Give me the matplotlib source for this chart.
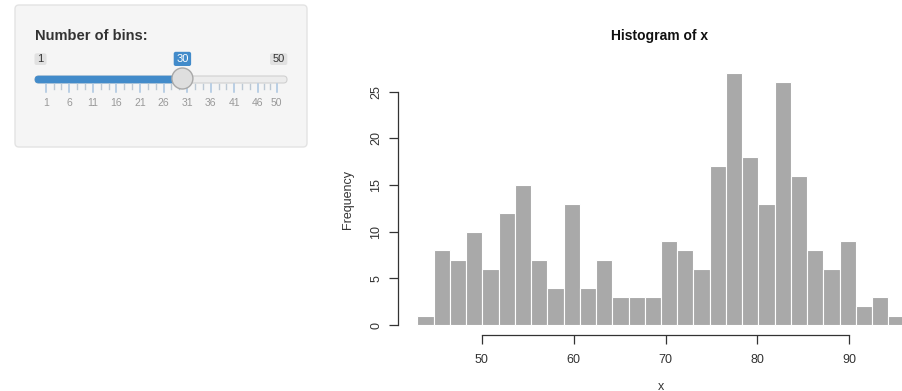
import numpy as np
import matplotlib
matplotlib.use('Agg')
import matplotlib.pyplot as plt
from matplotlib.patches import FancyBboxPatch, Circle

plt.rcParams['font.family'] = ['Liberation Sans', 'DejaVu Sans']

# faithful$waiting, 30 bins between min and max
WAIT_MIN = 43
WAIT_MAX = 96
N_BINS = 30
counts = [1, 8, 7, 10, 6, 12, 15, 7, 4, 13, 4, 7, 3, 3, 3,
          9, 8, 6, 17, 27, 18, 13, 26, 16, 8, 6, 9, 2, 3, 1]
xticks = [50, 60, 70, 80, 90]
yticks = [0, 5, 10, 15, 20, 25]

# slider input
slider_min = 1
slider_max = 50
slider_value = 30
slider_grid = [1, 6, 11, 16, 21, 26, 31, 36, 41, 46, 50]

BLUE = '#428bca'
TEXT = '#333333'


def px(v):
    # slider value -> pixel x in the sidebar
    return 45.7 + (v - slider_min) * (276.7 - 45.7) / (slider_max - slider_min)


def draw_sidebar(ax):
    ax.set_xlim(0, 903)
    ax.set_ylim(391, 0)
    ax.axis('off')

    well = FancyBboxPatch((15, 5), 292, 142, boxstyle='round,pad=0,rounding_size=4',
                          facecolor='#f5f5f5', edgecolor='#e3e3e3', linewidth=1)
    ax.add_patch(well)
    ax.text(35, 40, 'Number of bins:', fontsize=10.5, fontweight='bold',
            color=TEXT, va='baseline', ha='left')

    # track
    track = FancyBboxPatch((35, 76), 252, 7, boxstyle='round,pad=0,rounding_size=3.5',
                           facecolor='#ececec', edgecolor='#d0d0d0', linewidth=0.8)
    ax.add_patch(track)
    filled = FancyBboxPatch((35, 76), px(slider_value) - 35, 7,
                            boxstyle='round,pad=0,rounding_size=3.5',
                            facecolor=BLUE, edgecolor=BLUE, linewidth=0.5)
    ax.add_patch(filled)

    # grid ticks
    for i, g in enumerate(slider_grid):
        x = px(g)
        ax.plot([x, x], [84, 92], color='#a9c4e0', lw=1.1)
        ax.text(x, 103, str(g), fontsize=7.5, color='#999999', ha='center', va='center')
        if i < len(slider_grid) - 1:
            nxt = px(slider_grid[i + 1])
            for f in (1 / 3, 2 / 3):
                xm = x + (nxt - x) * f
                ax.plot([xm, xm], [84, 88.5], color='#bcc8d4', lw=1)

    # handle
    ax.add_patch(Circle((px(slider_value), 78.5), 10.5, facecolor='#dedede',
                        edgecolor='#a8a8a8', linewidth=1, zorder=5))

    # min / max / value labels
    ax.add_patch(FancyBboxPatch((34.5, 53.3), 12, 11.7, boxstyle='round,pad=0,rounding_size=2',
                                facecolor='#e1e1e1', edgecolor='none'))
    ax.text(40.5, 59.3, str(slider_min), fontsize=8, color=TEXT, ha='center', va='center')
    ax.add_patch(FancyBboxPatch((270, 53.3), 17.3, 11.7, boxstyle='round,pad=0,rounding_size=2',
                                facecolor='#e1e1e1', edgecolor='none'))
    ax.text(278.6, 59.3, str(slider_max), fontsize=8, color=TEXT, ha='center', va='center')
    xv = px(slider_value)
    ax.add_patch(FancyBboxPatch((xv - 8.7, 51.8), 17.4, 14.2, boxstyle='round,pad=0,rounding_size=2',
                                facecolor=BLUE, edgecolor='none'))
    ax.text(xv, 59, str(slider_value), fontsize=8, color='white', ha='center', va='center')


def draw_hist(ax):
    edges = np.linspace(WAIT_MIN, WAIT_MAX, N_BINS + 1)
    ax.bar(edges[:-1], counts, width=np.diff(edges), align='edge',
           color='#a9a9a9', edgecolor='white', linewidth=0.8)

    pad_x = 0.04 * (WAIT_MAX - WAIT_MIN)
    ax.set_xlim(WAIT_MIN - pad_x, WAIT_MAX + pad_x)
    ax.set_ylim(-0.04 * max(counts), 1.04 * max(counts))
    ax.patch.set_alpha(0)

    for s in ['top', 'right']:
        ax.spines[s].set_visible(False)
    ax.spines['left'].set_bounds(yticks[0], yticks[-1])
    ax.spines['bottom'].set_bounds(xticks[0], xticks[-1])
    for s in ['left', 'bottom']:
        ax.spines[s].set_color(TEXT)
        ax.spines[s].set_linewidth(0.9)

    ax.set_xticks(xticks)
    ax.set_yticks(yticks)
    ax.tick_params(axis='both', direction='out', length=6.5, width=0.9,
                   color=TEXT, labelcolor=TEXT, labelsize=9)
    ax.tick_params(axis='x', pad=7)
    ax.tick_params(axis='y', pad=5)
    for lab in ax.get_yticklabels():
        lab.set_rotation(90)
        lab.set_va('center')

    ax.text(0.498, 1.10, 'Histogram of x', transform=ax.transAxes, fontsize=10,
            fontweight='bold', color='#111111', ha='center', va='center')
    ax.text(-0.095, 0.5, 'Frequency', transform=ax.transAxes, fontsize=9,
            color=TEXT, rotation=90, ha='center', va='center')
    ax.text(0.4995, -0.19, 'x', transform=ax.transAxes, fontsize=9,
            color=TEXT, ha='center', va='center')


def main():
    fig = plt.figure(figsize=(9.03, 3.91), dpi=100)
    fig.patch.set_facecolor('white')

    ax0 = fig.add_axes([0, 0, 1, 1])
    draw_sidebar(ax0)

    # plot region runs past the right edge, as in the screenshot
    ax = fig.add_axes([398 / 903, 55.9 / 391, 526 / 903, 272.1 / 391])
    draw_hist(ax)

    fig.savefig('out.png', dpi=100)


if __name__ == '__main__':
    main()
